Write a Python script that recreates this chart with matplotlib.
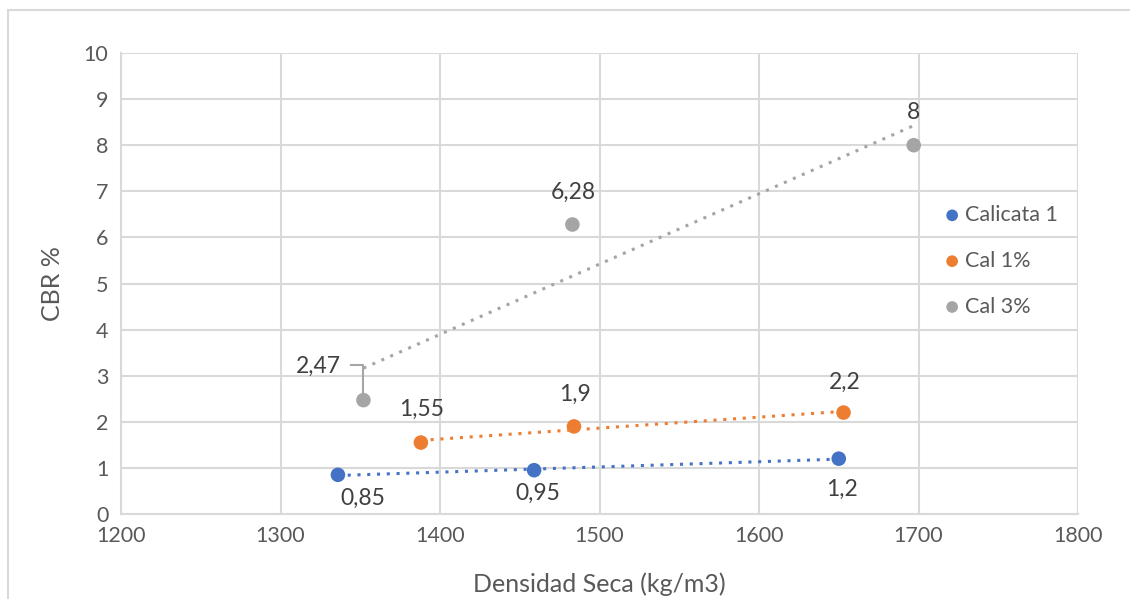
import numpy as np
import matplotlib.pyplot as plt
from matplotlib.patches import Rectangle

# data
calicata_x = [1336, 1459, 1650]
calicata_y = [0.85, 0.95, 1.2]
cal1_x = [1388, 1484, 1653]
cal1_y = [1.55, 1.9, 2.2]
cal3_x = [1352, 1483, 1697]
cal3_y = [2.47, 6.28, 8.0]
calicata_lbl = ["0,85", "0,95", "1,2"]
cal1_lbl = ["1,55", "1,9", "2,2"]
cal3_lbl = ["2,47", "6,28", "8"]
series_names = ["Calicata 1", "Cal 1%", "Cal 3%"]

plt.rcParams['font.family'] = ['Lato', 'DejaVu Sans']
txt = '#595959'
lbl_c = '#404040'
grid_c = '#d9d9d9'
colors = ['#4472C4', '#ED7D31', '#A5A5A5']

fig = plt.figure(figsize=(11.3, 5.99), dpi=100)
ax = fig.add_axes([121 / 1130, 1 - 514 / 599, (1078 - 121) / 1130, (514 - 53) / 599])

# outer chart border
fig.patches.append(Rectangle((8 / 1130, -0.01), 1.1, 1 - 10 / 599 + 0.01,
                             transform=fig.transFigure, fill=False,
                             edgecolor=grid_c, linewidth=1.5))

ax.set_xlim(1200, 1800)
ax.set_ylim(0, 10)
ax.set_xticks(range(1200, 1801, 100))
ax.set_yticks(range(0, 11))

series = [(calicata_x, calicata_y, calicata_lbl),
          (cal1_x, cal1_y, cal1_lbl),
          (cal3_x, cal3_y, cal3_lbl)]

for (xs, ys, lbls), c, name in zip(series, colors, series_names):
    ax.scatter(xs, ys, s=110, color=c, zorder=4, label=name, edgecolors='none')
    k, b = np.polyfit(xs, ys, 1)
    tx = np.array([min(xs), max(xs)])
    ax.plot(tx, k * tx + b, color=c, linestyle=(0, (1, 2.2)), linewidth=2.2, zorder=3)

# data labels (offsets in pixels)
offs = [[(25, -24), (4, -23), (3, -31)],
        [(1, 33), (1, 32), (1, 30)],
        [None, (1, 32), (0, 33)]]
for (xs, ys, lbls), o in zip(series, offs):
    for x, y, l, d in zip(xs, ys, lbls, o):
        if d is None:
            continue
        ax.annotate(l, (x, y), xytext=d, textcoords='offset pixels',
                    ha='center', va='center', fontsize=16.5, color=lbl_c)

# 2,47 label with leader line
ax.annotate(cal3_lbl[0], (cal3_x[0], cal3_y[0]), xytext=(-45, 34),
            textcoords='offset pixels', ha='center', va='center',
            fontsize=16.5, color=lbl_c)
px, py = ax.transData.transform((cal3_x[0], cal3_y[0]))
inv = ax.transData.inverted()
p1 = inv.transform((px - 12, py + 35))
p2 = inv.transform((px, py + 35))
p3 = inv.transform((px, py + 8))
ax.plot([p1[0], p2[0], p3[0]], [p1[1], p2[1], p3[1]], color='#A5A5A5',
        linewidth=1.5, zorder=3)

ax.grid(True, color=grid_c, linewidth=1.5)
ax.set_axisbelow(True)
for s in ax.spines.values():
    s.set_visible(False)
for side in ['left', 'bottom']:
    ax.spines[side].set_visible(True)
    ax.spines[side].set_color(grid_c)
    ax.spines[side].set_linewidth(1.5)
ax.tick_params(length=0, labelsize=15.5, labelcolor=txt, pad=9)

ax.set_xlabel("Densidad Seca (kg/m3)", fontsize=18, color=txt, labelpad=19)
ax.set_ylabel("CBR %", fontsize=18, color=txt)
ax.yaxis.set_label_coords(-(121 - 64) / 957, 0.5)

leg = ax.legend(loc='upper left', bbox_to_anchor=(0.846, 0.689), frameon=False,
                fontsize=15.5, labelcolor=txt, handletextpad=0.0,
                labelspacing=1.2, markerscale=0.8, handlelength=1.2,
                borderaxespad=0)

fig.savefig("out.png", dpi=100)
